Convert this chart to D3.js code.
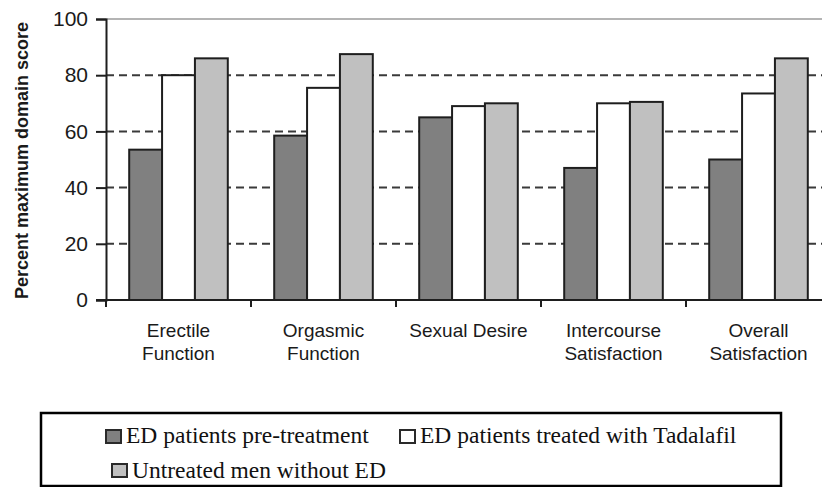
<!DOCTYPE html>
<html><head><meta charset="utf-8">
<script src="https://cdn.jsdelivr.net/npm/d3@7/dist/d3.min.js"></script>
<style>body{margin:0;background:#fff}svg{display:block}</style>
</head><body>
<svg id="c" width="822" height="487"></svg>
<script>
// ---- data ----
const categories = ["Erectile Function", "Orgasmic Function", "Sexual Desire", "Intercourse Satisfaction", "Overall Satisfaction"];
const categoryLines = [["Erectile", "Function"], ["Orgasmic", "Function"], ["Sexual Desire"], ["Intercourse", "Satisfaction"], ["Overall", "Satisfaction"]];
const seriesNames = ["ED patients pre-treatment", "ED patients treated with Tadalafil", "Untreated men without ED"];
const preTreatment = [53.5, 58.5, 65, 47, 50];
const tadalafil = [80, 75.5, 69, 70, 73.5];
const untreated = [86, 87.5, 70, 70.5, 86];
const yTicks = [0, 20, 40, 60, 80, 100];
const yLabel = "Percent maximum domain score";

const seriesValues = [preTreatment, tadalafil, untreated];
const fills = ["#808080", "#ffffff", "#c0c0c0"];

const svg = d3.select("#c");
const plotLeft = 106, plotRight = 831, plotTop = 19, plotBottom = 300;

const x0 = d3.scaleBand().domain(categories).range([plotLeft, plotRight]).paddingInner(0.32).paddingOuter(0.16);
const x1 = d3.scaleBand().domain(seriesNames).range([0, x0.bandwidth()]);
const y = d3.scaleLinear().domain([0, 100]).range([plotBottom, plotTop]);

// top border (light gray)
svg.append("line").attr("x1", plotLeft).attr("x2", 822).attr("y1", y(100)).attr("y2", y(100))
  .attr("stroke", "#b4b4b4").attr("stroke-width", 2);

// dashed gridlines
svg.append("g").selectAll("line").data(yTicks.filter(d => d > 0 && d < 100)).join("line")
  .attr("x1", plotLeft).attr("x2", 822).attr("y1", d => y(d)).attr("y2", d => y(d))
  .attr("stroke", "#3a3a3a").attr("stroke-width", 2).attr("stroke-dasharray", "8,5");

// bars
const rows = categories.map((c, i) => ({cat: c, vals: seriesValues.map((s, j) => ({name: seriesNames[j], v: s[i], j}))}));
svg.append("g").selectAll("g").data(rows).join("g")
  .attr("transform", d => `translate(${x0(d.cat)},0)`)
  .selectAll("rect").data(d => d.vals).join("rect")
  .attr("x", d => x1(d.name)).attr("width", x1.bandwidth())
  .attr("y", d => y(d.v)).attr("height", d => y(0) - y(d.v))
  .attr("fill", d => fills[d.j]).attr("stroke", "#1e1e1e").attr("stroke-width", 2);

// y axis
const yAxis = svg.append("g").attr("transform", `translate(${plotLeft},0)`)
  .call(d3.axisLeft(y).tickValues(yTicks).tickSize(10).tickPadding(8));
yAxis.select(".domain").attr("stroke", "#1e1e1e").attr("stroke-width", 2);
yAxis.selectAll(".tick line").attr("stroke", "#1e1e1e").attr("stroke-width", 2);
yAxis.selectAll(".tick text").attr("font-family", "Liberation Sans, Arial, sans-serif")
  .attr("font-size", 21).attr("fill", "#1a1a1a");

// baseline
svg.append("line").attr("x1", plotLeft - 10).attr("x2", 822).attr("y1", y(0)).attr("y2", y(0))
  .attr("stroke", "#1e1e1e").attr("stroke-width", 2);

// x ticks at category boundaries
const gap = (x0.step() - x0.bandwidth()) / 2;
svg.append("g").selectAll("line").data(categories).join("line")
  .attr("x1", d => x0(d) - gap).attr("x2", d => x0(d) - gap)
  .attr("y1", y(0)).attr("y2", y(0) + 7)
  .attr("stroke", "#1e1e1e").attr("stroke-width", 2);

// x labels
const xl = svg.append("g").selectAll("text").data(categories).join("text")
  .attr("x", d => x0(d) + x0.bandwidth() / 2).attr("y", 337)
  .attr("text-anchor", "middle").attr("font-family", "Liberation Sans, Arial, sans-serif")
  .attr("font-size", 19).attr("fill", "#1a1a1a");
xl.selectAll("tspan").data((d, i) => categoryLines[i]).join("tspan")
  .attr("x", function() { return d3.select(this.parentNode).attr("x"); })
  .attr("dy", (d, i) => i === 0 ? 0 : 23).text(d => d);

// y label
svg.append("text").attr("transform", `translate(28,${(plotTop + plotBottom) / 2 + 1}) rotate(-90)`)
  .attr("text-anchor", "middle").attr("font-family", "Liberation Sans, Arial, sans-serif")
  .attr("font-weight", "bold").attr("font-size", 18).attr("fill", "#1a1a1a").text(yLabel);

// legend
svg.append("rect").attr("x", 41).attr("y", 413).attr("width", 740).attr("height", 73)
  .attr("fill", "none").attr("stroke", "#000").attr("stroke-width", 2.5);
const legendItems = [
  {sx: 106, sy: 430, tx: 126, ty: 443},
  {sx: 400, sy: 430, tx: 420, ty: 443},
  {sx: 112, sy: 464, tx: 132, ty: 478}
];
const lg = svg.append("g").selectAll("g").data(seriesNames).join("g");
lg.append("rect").attr("x", (d, i) => legendItems[i].sx).attr("y", (d, i) => legendItems[i].sy)
  .attr("width", 15).attr("height", 13).attr("fill", (d, i) => fills[i])
  .attr("stroke", "#2a2a2a").attr("stroke-width", 2);
lg.append("text").attr("x", (d, i) => legendItems[i].tx).attr("y", (d, i) => legendItems[i].ty)
  .attr("font-family", "Liberation Serif, 'Times New Roman', serif").attr("font-size", 23.5)
  .attr("fill", "#111").text(d => d);
</script>
</body></html>
